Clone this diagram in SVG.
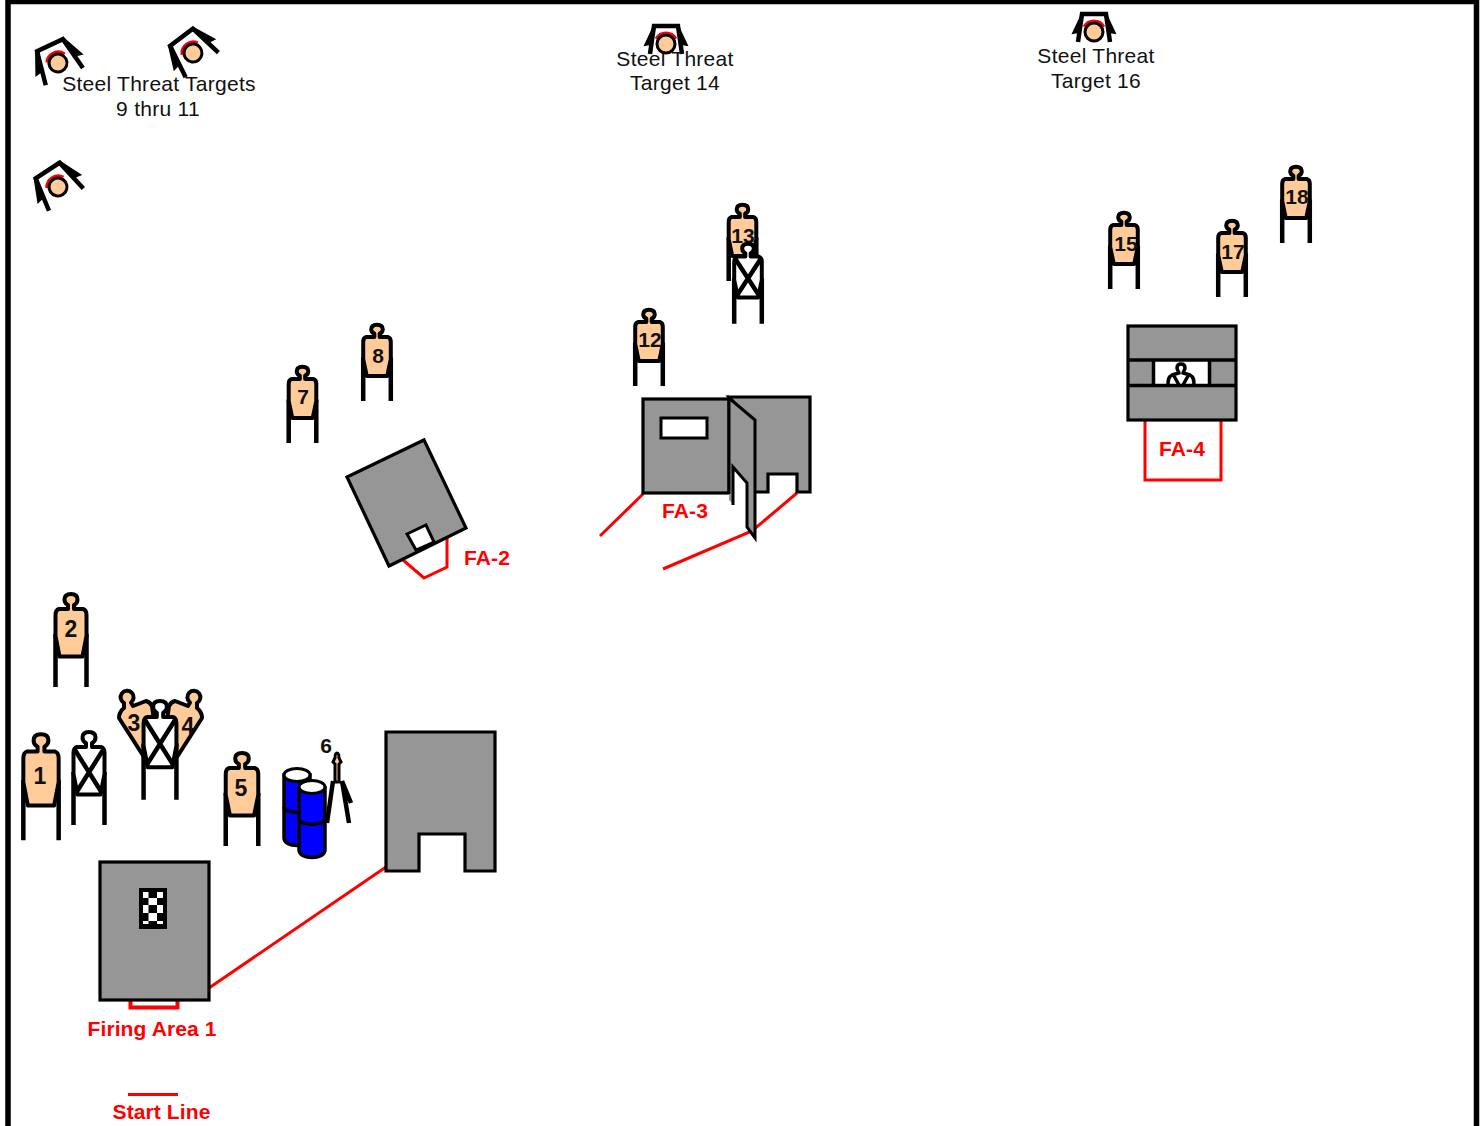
<svg xmlns="http://www.w3.org/2000/svg" width="1481" height="1126" viewBox="0 0 1481 1126">
<style>
text{font-family:"Liberation Sans",Arial,sans-serif}
.lb{font-size:21px;fill:#111;text-anchor:middle;letter-spacing:.27px}
.red{font-size:21px;font-weight:bold;fill:#f00;text-anchor:middle;letter-spacing:.1px}
.num{font-size:23px;font-weight:bold;fill:#111;text-anchor:middle}
.snum{font-size:21px;font-weight:bold;fill:#111;text-anchor:middle}
.wall{fill:#969696;stroke:#000;stroke-width:3.200;stroke-linejoin:miter}
.rl{fill:none;stroke:#f00;stroke-width:3}
.k{fill:none;stroke:#000;stroke-width:4.500;vector-effect:non-scaling-stroke}
#sil{vector-effect:non-scaling-stroke}
.skin{fill:#fc9;stroke:#000;stroke-width:4;stroke-linejoin:round}
.ns{fill:#fff;stroke:#000;stroke-width:4;stroke-linejoin:round}
.sf{fill:none;stroke:#000;stroke-width:4.500}
</style>
<defs>
<path id="sil" d="M-3 13C-5 12-6.500 10-6.500 7.500C-6.500 3.500-4 2 0 2C4 2 6.500 3.500 6.500 7.500C6.500 10 5 12 3 13V17H12Q15.500 18 15.500 23V44L11.500 64.500H-11.500L-15.500 44V23Q-15.500 18-12 17H-3Z"/>
<g id="legs"><path class="k" d="M-15.500 42V95M15.500 42V95"/></g>
<g id="tgt"><use href="#legs"/><use href="#sil" class="skin"/></g>
<g id="nst"><use href="#legs"/><use href="#sil" class="ns"/><path class="k" d="M-14 20L13 63M14 20L-13 63"/></g>
<path id="oblique" d="M124 703A6.500 6.500 0 1 1 131 702.500L133 706L146 701Q150 702 152 706L158 750L144 757L119 718Q119 712 124 708Z"/>
<g id="plate">
<path d="M-9.500-5A11 11 0 0 1 9.500-5" fill="none" stroke="#f00" stroke-width="4"/>
<circle r="9" fill="#fc9" stroke="#000" stroke-width="3"/>
</g>
<g id="steelR"><use href="#plate"/>
<path class="sf" d="M-20.500 15L-14-19.500H14.500L20.500 15"/>
<path class="sf" d="M-14-19L-22.500 0L-17.500-1M14.500-19L23 0L18-1"/>
</g>
<g id="steelF"><use href="#plate"/>
<path class="sf" d="M-16 10L-12-18H12L16 10"/>
<path class="sf" style="stroke-width:3.500" d="M-12-16L-19.500 0L-14-1M12-16L19.500 0L14-1"/>
</g>
</defs>
<rect width="1481" height="1126" fill="#fff"/>
<g id="frame"><path d="M8 1126V1.500H1476.500V1126" fill="none" stroke="#000" stroke-width="5.500"/></g>
<g id="connectors">
<path class="rl" d="M209 988L386 867"/>
<path class="rl" d="M403 560L424 578L447 567V538"/>
<path class="rl" d="M643 494L600 536"/>
<path class="rl" d="M797 493L752 531L663 569"/>
<path class="rl" d="M1145 421V480H1221V421"/>
<path class="rl" style="stroke-width:4" d="M130.500 1000V1007.500H177.500V1000"/>
<path class="rl" d="M128 1094.500H178"/>
</g>
<g id="steel-9"><use href="#steelR" transform="translate(58 63) rotate(-25)"/></g>
<g id="steel-10"><use href="#steelR" transform="translate(193 53) rotate(-37)"/></g>
<g id="steel-11"><use href="#steelR" transform="translate(58 187) rotate(-33)"/></g>
<g id="steel-14"><use href="#steelF" transform="translate(666 44)"/></g>
<g id="steel-16"><use href="#steelF" transform="translate(1094 32)"/></g>
<text class="lb" x="159" y="91">Steel Threat Targets</text>
<text class="lb" x="158" y="116">9 thru 11</text>
<text class="lb" x="675" y="66">Steel Threat</text>
<text class="lb" x="675" y="90">Target 14</text>
<text class="lb" x="1096" y="63">Steel Threat</text>
<text class="lb" x="1096" y="88">Target 16</text>
<g id="t1"><use href="#tgt" transform="translate(41 732) scale(1.14)"/><text class="num" x="40" y="784">1</text></g>
<g id="ns1"><use href="#nst" transform="translate(89 730)"/></g>
<g id="t2"><use href="#tgt" transform="translate(71 592)"/><text class="num" x="71" y="637">2</text></g>
<g id="t3"><use href="#oblique" class="skin"/><text class="num" x="134" y="731">3</text></g>
<g id="t4"><use href="#oblique" class="skin" transform="translate(321 0) scale(-1 1)"/><text class="num" x="188" y="734">4</text></g>
<g id="ns2"><use href="#nst" transform="translate(160 699) scale(1.06)"/></g>
<g id="t5"><use href="#tgt" transform="translate(242 751) scale(1.05 1)"/><text class="num" x="241" y="796">5</text></g>
<g id="barrels">
<path d="M284 775V838C284 848 310 848 310 838V775Z" fill="#00f" stroke="#000" stroke-width="3.500"/>
<ellipse cx="297" cy="775" rx="13" ry="6.500" fill="#fff" stroke="#000" stroke-width="3"/>
<path d="M284 807C284 814 310 814 310 807" fill="none" stroke="#000" stroke-width="3.500"/>
<path d="M299 788V850C299 860 325 860 325 850V788Z" fill="#00f" stroke="#000" stroke-width="3.500"/>
<ellipse cx="312" cy="787" rx="13" ry="6.500" fill="#fff" stroke="#000" stroke-width="3"/>
<path d="M299 819C299 826 325 826 325 819" fill="none" stroke="#000" stroke-width="3.500"/>
</g>
<g id="t6">
<path d="M337 753C335 753 335 756 335 758L333 762L335 764V782H339V764L341 762L339 758C339 756 339 753 337 753Z" fill="#fc9" stroke="#000" stroke-width="3"/>
<path d="M333 781L327 823M342 781L349 823M342 781L351 803" fill="none" stroke="#000" stroke-width="4.500"/>
<text class="snum" x="326" y="753">6</text>
</g>
<g id="t7"><use href="#tgt" transform="translate(302.500 365) scale(.89 .82)"/><text class="snum" x="303" y="404">7</text></g>
<g id="t8"><use href="#tgt" transform="translate(377 323) scale(.89 .82)"/><text class="snum" x="378" y="363">8</text></g>
<g id="t12"><use href="#tgt" transform="translate(649 308) scale(.89 .82)"/><text class="snum" x="650" y="347">12</text></g>
<g id="t13"><use href="#tgt" transform="translate(742.500 203) scale(.89 .82)"/><text class="snum" x="743" y="243">13</text></g>
<g id="ns3"><use href="#nst" transform="translate(748 242) scale(.89 .86)"/></g>
<g id="t15"><use href="#tgt" transform="translate(1124 211) scale(.89 .82)"/><text class="snum" x="1126" y="251">15</text></g>
<g id="t17"><use href="#tgt" transform="translate(1232 219) scale(.89 .82)"/><text class="snum" x="1233" y="259">17</text></g>
<g id="t18"><use href="#tgt" transform="translate(1296 165) scale(.89 .82)"/><text class="snum" x="1297" y="204">18</text></g>
<g id="fa1-wall">
<rect class="wall" x="100" y="862" width="109" height="138"/>
<rect x="139" y="888" width="28" height="41" fill="#000"/>
<path fill="#fff" d="M143 892h5.500v6h-5.500zM157 892h6v6h-6zM148.500 898h8.500v7h-8.500zM143 905h5.500v8h-5.500zM157 905h6v8h-6zM148.500 913h8.500v8h-8.500zM143 921h5.500v3h-5.500zM157 921h6v3h-6z"/>
</g>
<g id="wall-2"><path class="wall" d="M386 732H495V871H465V834H419V871H386Z"/></g>
<g id="fa2-wall">
<path class="wall" d="M424 440L466 528L389 566L347 477Z"/>
<path d="M407 534L426 525L434 542L416 550Z" fill="#fff" stroke="#000" stroke-width="3"/>
</g>
<g id="fa3-wall">
<rect class="wall" x="643" y="399" width="86" height="94"/>
<rect x="661" y="418" width="46" height="20" fill="#fff" stroke="#000" stroke-width="3"/>
<path class="wall" d="M729 397H810V492H797V474H768V492H750V420Z"/>
<path d="M729 398L755 420V538L747 527V483L733 467V504L729 500Z" fill="#969696"/>
<path d="M733 467L747 483V527L733 504Z" fill="#fff"/>
<path d="M729 494V398L755 420V538L747 527V483L733 467V505" fill="none" stroke="#000" stroke-width="3"/>
</g>
<g id="fa4-wall">
<rect class="wall" x="1128" y="326" width="108" height="94"/>
<rect x="1154" y="360" width="56" height="25" fill="#fff"/>
<path d="M1181 364C1178 364 1177 366 1177 368C1177 370 1179 372 1179 373L1172 375C1168 377 1168 381 1168 385M1181 364C1184 364 1185 366 1185 368C1185 370 1183 372 1183 373L1190 375C1194 377 1194 381 1194 385M1174 376L1179 385M1188 376L1183 385" fill="none" stroke="#000" stroke-width="3.500"/>
<path d="M1128 360H1236M1128 385.500H1236M1153.500 360V385M1209.500 360V385" fill="none" stroke="#000" stroke-width="3.500"/>
</g>
<text class="red" x="487" y="564.500">FA-2</text>
<text class="red" x="685" y="517.500">FA-3</text>
<text class="red" x="1182" y="455.500">FA-4</text>
<text class="red" x="152" y="1036">Firing Area 1</text>
<text class="red" x="161.500" y="1119">Start Line</text>
</svg>
